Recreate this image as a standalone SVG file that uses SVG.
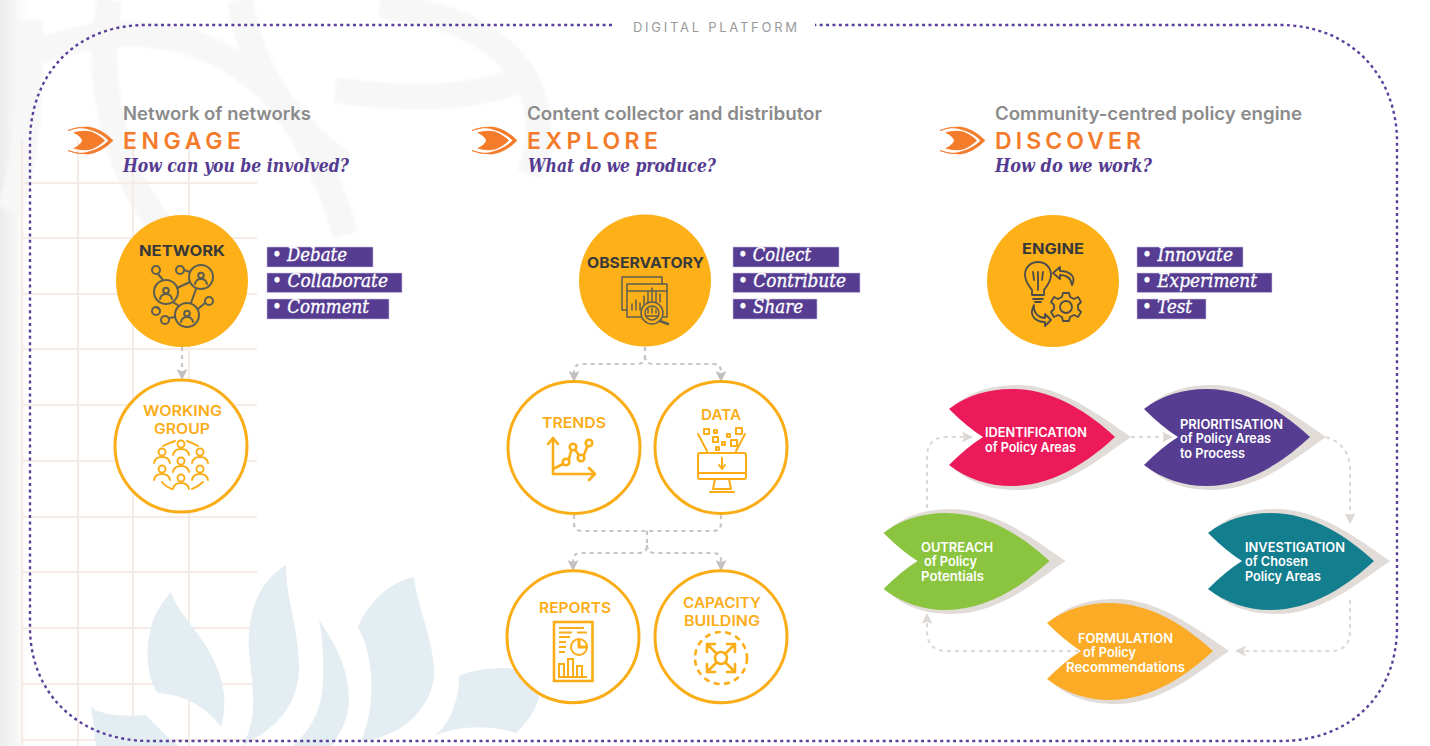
<svg xmlns="http://www.w3.org/2000/svg" xmlns:xlink="http://www.w3.org/1999/xlink" width="1430" height="746" viewBox="0 0 1430 746">
<style>
text{font-family:"Inter","Noto Sans","Liberation Sans",sans-serif}
.sub{font-size:18px;font-weight:600;fill:#8b8b8b}
.head{font-size:23px;font-weight:600;fill:#f47b2a}
.q{font-family:"DejaVu Serif","Liberation Serif",serif;font-style:italic;font-weight:700;font-size:18px;fill:#553c91}
.tag{fill:#563d92;stroke:#c9bfdc;stroke-width:.6}
.tt{font-family:"DejaVu Serif","Liberation Serif",serif;font-style:italic;font-size:18px;fill:#fff;stroke:#fff;stroke-width:.35}
.dark{font-size:15px;font-weight:700;fill:#38393a}
.amb{font-size:15px;font-weight:600;fill:#fbad18}
.amb2{font-size:14px;font-weight:600;fill:#fbad18}
.lf{font-size:13px;font-weight:600;fill:#fff}
.solid{fill:#fdb017}
.ring{fill:#fff;stroke:#fbad18;stroke-width:3}
.ia{fill:none;stroke:#fbad18;stroke-width:2.6;stroke-linecap:round;stroke-linejoin:round}
.id{fill:none;stroke:#5c5d52;stroke-width:2;stroke-linecap:round;stroke-linejoin:round}
.shadow{fill:#e2dcd9}
.g1{fill:none;stroke:#c8c4c4;stroke-width:2.2;stroke-dasharray:4 4}
.g2{fill:none;stroke:#ddd8d5;stroke-width:2;stroke-dasharray:4 4}
.wm{fill:none;stroke:#f7f7f7;stroke-width:26}
.bl{fill:#e4edf2}
.grid{stroke:#f5ece8;stroke-width:2;fill:none}
</style>
<defs>
<linearGradient id="edge" x1="0" x2="1" y1="0" y2="0"><stop offset="0" stop-color="#ececec"/><stop offset="1" stop-color="#fff"/></linearGradient>
<filter id="soft" x="-5%" y="-5%" width="110%" height="110%"><feGaussianBlur stdDeviation="1.5"/></filter>
<path id="leaf" d="M0 0C18-14 40-20 62-20C105-20 140 4 166 28C140 52 105 77 62 77C40 77 18 70 0 56Q18 38 34 28Q18 18 0 0Z"/>
<path id="leafs" d="M8-6C28-21 50-24 68-24C112-24 150 6 182 28C150 50 115 81 68 81C50 81 28 78 8 62L60 28Z"/>
<g id="eye"><path d="M0-10Q10-14 20-13.500Q33-12 45 0Q33 12 20 13.500Q10 14 0 10Q12 15 22 11Q33 8 41 0Q33-8 22-11Q12-15 0-10Z" fill="#f47b2a" stroke="#f47b2a" stroke-width=".8"/><path d="M5-8Q15-11 23-9Q31-6 37 0Q31 6 23 9Q15 11 5 8Q13 4 14 0Q13-4 5-8Z" fill="#f47b2a"/></g>
<g id="pa"><circle cx="0" cy="-5" r="3.500"/><path d="M-8 6Q-7 0 0 0Q7 0 8 6"/></g>
<g id="pd"><circle cx="0" cy="-2.500" r="2.800"/><path d="M-6 6Q-5 1 0 1Q5 1 6 6"/></g>
<marker id="ah" viewBox="0 0 10 10" refX="9" refY="5" markerWidth="11" markerHeight="11" markerUnits="userSpaceOnUse" orient="auto"><path d="M0 0L10 5L0 10L2 5Z" fill="#c4bfbf"/></marker>
<marker id="ah2" viewBox="0 0 10 10" refX="9" refY="5" markerWidth="11" markerHeight="11" markerUnits="userSpaceOnUse" orient="auto"><path d="M0 0L10 5L0 10L2 5Z" fill="#ddd8d5"/></marker>
</defs>

<rect width="1430" height="746" fill="#fff"/>
<rect width="28" height="746" fill="url(#edge)"/>
<g id="watermark" filter="url(#soft)">
<path class="wm" d="M20 60C120 10 240 30 300 130C330 180 340 215 345 235"/>
<path class="wm" d="M110 0C95 70 110 160 160 225"/>
<path class="wm" d="M240 0C250 60 280 120 345 165"/>
<path class="wm" d="M380 5C510 20 560 90 530 175"/>
<path class="wm" d="M335 90C400 100 470 100 520 80"/>
<path class="wm" d="M30 20C30 90 30 150 10 210"/>
</g>
<g id="grid" class="grid">
<path d="M22 140V746M78 140V746M133 140V746M189 140V746"/>
<path d="M22 183H257M22 238H257M22 294H257M22 349H257M22 405H257M22 461H257M22 517H257M22 572H257M22 628H257M22 684H257M22 740H257"/>
</g>
<g id="leaves">
<path class="bl" d="M171 592C178 615 205 635 218 670C226 690 226 710 221 727C210 712 190 695 158 693C148 680 145 655 150 632C153 615 162 602 171 592Z"/>
<path class="bl" d="M286 565C286 600 299 630 299 667C299 705 275 728 250 741L243 746C255 720 254 705 252 680C250 660 248 650 249 633C251 600 265 578 286 565Z"/>
<path class="bl" d="M319 620C340 650 349 675 349 700C349 720 338 735 332 746H293C315 725 323 705 323 677C324 655 322 635 319 620Z"/>
<path class="bl" d="M414 577C418 610 434 640 434 673C434 700 410 736 361 741C375 710 376 660 358 627C370 600 390 582 414 577Z"/>
<path class="bl" d="M459 676C475 669 490 668 507 668C520 668 532 680 539 697C535 712 525 725 516 733C490 725 460 725 434 736C450 725 459 700 459 676Z"/>
<path class="bl" d="M91 706C97 715 125 717 146 715C155 725 168 738 179 746H96Z"/>
</g>

<g id="frame"><path d="M612 25H146C75 25 30 75 30 142V627C30 695 80 741 150 741H1280C1350 741 1397 695 1397 627V142C1397 75 1350 25 1280 25H815" fill="none" stroke="#5b4099" stroke-width="2.400" stroke-dasharray="3 3.400"/>
<text x="633" y="32" font-size="13" fill="#9a9a9a" textLength="164" lengthAdjust="spacing">DIGITAL PLATFORM</text></g>

<g id="connectors">
<path class="g1" d="M182 347V379" marker-end="url(#ah)"/>
<path class="g1" d="M645 347V356Q645 364 637 364H582Q574 364 574 372V381" marker-end="url(#ah)"/>
<path class="g1" d="M645 356Q645 364 653 364H713Q721 364 721 372V381" marker-end="url(#ah)"/>
<path class="g1" d="M574 515V523Q574 531 582 531H713Q721 531 721 523V515"/>
<path class="g1" d="M647 531V545Q647 553 639 553H581Q573 553 573 561V570" marker-end="url(#ah)"/>
<path class="g1" d="M647 545Q647 553 655 553H713Q721 553 721 561V570" marker-end="url(#ah)"/>
<path class="g2" d="M927 508V457Q927 437 947 437H972" marker-end="url(#ah2)"/>
<path class="g2" d="M1131 437H1172" marker-end="url(#ah2)"/>
<path class="g2" d="M1326 437Q1350 445 1350 470V523" marker-end="url(#ah2)"/>
<path class="g2" d="M1350 600V631Q1350 651 1330 651H1236" marker-end="url(#ah2)"/>
<path class="g2" d="M1079 651H947Q927 651 927 631V614" marker-end="url(#ah2)"/>
</g>

<g id="engage-head">
<use href="#eye" x="68" y="140.500"/>
<text class="sub" x="123" y="120" textLength="188" lengthAdjust="spacingAndGlyphs">Network of networks</text>
<text class="head" x="123" y="149" textLength="118" lengthAdjust="spacing">ENGAGE</text>
<text class="q" x="123" y="172" textLength="226" lengthAdjust="spacingAndGlyphs">How can you be involved?</text>
</g>
<g id="explore-head">
<use href="#eye" x="472" y="140.500"/>
<text class="sub" x="527" y="120" textLength="295" lengthAdjust="spacingAndGlyphs">Content collector and distributor</text>
<text class="head" x="527" y="149" textLength="131" lengthAdjust="spacing">EXPLORE</text>
<text class="q" x="528" y="172" textLength="188" lengthAdjust="spacingAndGlyphs">What do we produce?</text>
</g>
<g id="discover-head">
<use href="#eye" x="940" y="140.500"/>
<text class="sub" x="995" y="120" textLength="307" lengthAdjust="spacingAndGlyphs">Community-centred policy engine</text>
<text class="head" x="995" y="149" textLength="146" lengthAdjust="spacing">DISCOVER</text>
<text class="q" x="995" y="172" textLength="157" lengthAdjust="spacingAndGlyphs">How do we work?</text>
</g>

<g id="network">
<circle class="solid" cx="182" cy="281" r="66"/>
<text class="dark" x="139" y="256" textLength="86" lengthAdjust="spacingAndGlyphs">NETWORK</text>
<g class="id">
<circle cx="166" cy="292" r="12"/><circle cx="201" cy="277" r="12"/><circle cx="187" cy="315" r="12"/>
<circle cx="156" cy="270" r="4"/><circle cx="180" cy="270" r="4"/><circle cx="156" cy="311" r="4"/><circle cx="165" cy="320" r="4"/><circle cx="209" cy="301" r="4"/>
<path d="M158 274L163 280M184 270L190 272M177 288L190 282M196 289L191 303M173 302L179 306M159 309L156 307M169 318L175 317M198 309L205 303"/>
<use href="#pd" x="166" y="293"/><use href="#pd" x="201" y="278"/><use href="#pd" x="187" y="316"/>
</g>
</g>
<g id="network-tags">
<rect class="tag" x="267" y="247" width="106" height="20"/><rect class="tag" x="267" y="273" width="135" height="19.500"/><rect class="tag" x="267" y="299" width="122" height="20"/>
<text class="tt" x="272" y="261" textLength="75" lengthAdjust="spacingAndGlyphs">• Debate</text>
<text class="tt" x="272" y="287" textLength="116" lengthAdjust="spacingAndGlyphs">• Collaborate</text>
<text class="tt" x="272" y="313" textLength="97" lengthAdjust="spacingAndGlyphs">• Comment</text>
</g>
<g id="working-group">
<circle class="ring" cx="181" cy="446" r="66"/>
<text class="amb2" x="143" y="416" textLength="79" lengthAdjust="spacingAndGlyphs">WORKING</text>
<text class="amb2" x="154" y="433.500" textLength="56" lengthAdjust="spacingAndGlyphs">GROUP</text>
<g class="ia" style="stroke-width:1.900">
<use href="#pa" x="181" y="449"/><use href="#pa" x="162" y="457"/><use href="#pa" x="200" y="457"/><use href="#pa" x="181" y="466"/><use href="#pa" x="162" y="474"/><use href="#pa" x="200" y="474"/><use href="#pa" x="181" y="483"/>
<path d="M163 446Q169 443 175 441M187 441Q193 443 198 446M162 482Q166 487 172 489M192 489Q198 487 203 482"/>
</g>
</g>

<g id="observatory">
<circle class="solid" cx="645" cy="280.500" r="66"/>
<text class="dark" x="587" y="268" textLength="117" lengthAdjust="spacingAndGlyphs">OBSERVATORY</text>
<g class="id" style="stroke-width:1.500">
<path d="M627 310H622V277H662V284"/><rect x="627" y="284" width="40" height="33"/><path d="M627 291H667"/>
<path d="M632 310V304M636 310V300M640 310V303M644 304V296M648 302V292M652 302V288M656 302V291M660 302V294"/>
<circle cx="652" cy="313" r="11" fill="#fdb017"/><circle cx="652" cy="313" r="7"/><path d="M660 321L668 324" style="stroke-width:2.500"/>
<path d="M648 313V309M652 313V308M656 313V310M646 316H658"/>
</g>
</g>
<g id="observatory-tags">
<rect class="tag" x="733" y="247" width="106" height="20"/><rect class="tag" x="733" y="273" width="127" height="19.500"/><rect class="tag" x="733" y="299" width="84" height="20"/>
<text class="tt" x="738" y="261" textLength="73" lengthAdjust="spacingAndGlyphs">• Collect</text>
<text class="tt" x="738" y="287" textLength="108" lengthAdjust="spacingAndGlyphs">• Contribute</text>
<text class="tt" x="738" y="313" textLength="65" lengthAdjust="spacingAndGlyphs">• Share</text>
</g>
<g id="trends">
<circle class="ring" cx="574" cy="447.500" r="66"/>
<text class="amb" x="542" y="428" textLength="64" lengthAdjust="spacingAndGlyphs">TRENDS</text>
<g class="ia"><path d="M548 444L553 438L558 444M553 438V474H595M589 468L595 474L589 480M553 469L563 464M569 459L571 451M576 451L578 454M584 455L587 447"/>
<circle cx="566" cy="462" r="3.300"/><circle cx="573" cy="447" r="3.300"/><circle cx="581" cy="458" r="3.300"/><circle cx="589" cy="443" r="3.300"/></g>
</g>
<g id="data">
<circle class="ring" cx="721" cy="447.500" r="66"/>
<text class="amb" x="701" y="420" textLength="40" lengthAdjust="spacingAndGlyphs">DATA</text>
<g class="ia" style="stroke-width:2">
<rect x="698" y="453" width="48" height="26" rx="2"/><path d="M698 473H746M722 458V468M719 465L722 469L725 465M715 479L713 489H731L729 479M710 492H734M698 434L707 451M745 434L736 451"/>
<rect x="704" y="429" width="5" height="5"/><rect x="713" y="437" width="5" height="5"/><rect x="731" y="440" width="6" height="6"/><rect x="736" y="428" width="6" height="6"/><rect x="714" y="430" width="3" height="3"/><rect x="727" y="434" width="3" height="3"/><rect x="722" y="442" width="3" height="3"/><rect x="716" y="447" width="3" height="3"/>
</g>
</g>
<g id="reports">
<circle class="ring" cx="573" cy="636.700" r="66"/>
<text class="amb" x="539" y="613" textLength="72" lengthAdjust="spacingAndGlyphs">REPORTS</text>
<g class="ia" style="stroke-width:2;stroke-linecap:butt;stroke-linejoin:miter">
<rect x="554" y="622" width="38.500" height="59" style="stroke-width:2.600"/><path d="M559 628H584M559 632.500H572M577 632.500H587M559 637H570M559 642H566M559 647H566M559 652H565"/>
<circle cx="579" cy="647" r="8"/><path d="M579 639V647H587" style="stroke-width:3"/>
<rect x="559" y="664" width="5" height="13"/><rect x="568" y="659" width="5" height="18"/><rect x="577" y="666" width="5" height="11"/><path d="M558 677H587"/>
</g>
</g>
<g id="capacity-building">
<circle class="ring" cx="721" cy="636.700" r="66"/>
<text class="amb2" x="683" y="608" textLength="78" lengthAdjust="spacingAndGlyphs">CAPACITY</text>
<text class="amb2" x="684" y="625.500" textLength="76" lengthAdjust="spacingAndGlyphs">BUILDING</text>
<g class="ia"><circle cx="721" cy="658" r="26" stroke-dasharray="6 4.500" stroke-linecap="butt"/><circle cx="721" cy="658" r="6"/>
<path d="M716 653L707 644M707 652V644H715M726 653L735 644M727 644H735V652M716 663L707 672M707 664V672H715M726 663L735 672M735 664V672H727"/></g>
</g>

<g id="engine">
<circle class="solid" cx="1053" cy="281" r="66"/>
<text class="dark" x="1022" y="254" textLength="62" lengthAdjust="spacingAndGlyphs">ENGINE</text>
<g class="id" style="stroke:#4b4c4a;stroke-width:1.800">
<path d="M1032 290C1028 285 1025 280 1025 275C1025 267 1031 262 1038 262C1045 262 1051 267 1051 275C1051 280 1048 285 1044 290V295H1032ZM1033 299H1043M1035 302H1041M1034 280L1033 272M1042 280L1043 272M1038 272V290"/>
<path d="M1072 285C1071 278 1066 275 1060 275V279L1053 273L1060 267V271C1069 271 1077 276 1072 285Z"/>
<path d="M1034 305C1033 314 1040 318 1045 318V314L1051 320L1045 326V322C1036 322 1028 316 1034 305Z"/>
<circle cx="1066" cy="307" r="6"/>
<path d="M1063 293H1069L1070 297L1074 299L1078 297L1081 302L1078 305V309L1081 312L1078 317L1074 315L1070 317L1069 321H1063L1062 317L1058 315L1054 317L1051 312L1054 309V305L1051 302L1054 297L1058 299L1062 297Z"/>
</g>
</g>
<g id="engine-tags">
<rect class="tag" x="1137" y="247" width="106" height="20"/><rect class="tag" x="1137" y="273" width="135" height="19.500"/><rect class="tag" x="1137" y="299" width="69" height="20"/>
<text class="tt" x="1142" y="261" textLength="91" lengthAdjust="spacingAndGlyphs">• Innovate</text>
<text class="tt" x="1142" y="287" textLength="115" lengthAdjust="spacingAndGlyphs">• Experiment</text>
<text class="tt" x="1142" y="313" textLength="50" lengthAdjust="spacingAndGlyphs">• Test</text>
</g>

<g id="identification">
<use href="#leafs" class="shadow" x="949" y="409"/><use href="#leaf" x="949" y="409" fill="#ed1a5b"/>
<text class="lf" x="985" y="437" textLength="102" lengthAdjust="spacingAndGlyphs">IDENTIFICATION</text>
<text class="lf" x="985" y="452" textLength="91" lengthAdjust="spacingAndGlyphs">of Policy Areas</text>
</g>
<g id="prioritisation">
<use href="#leafs" class="shadow" x="1144" y="409"/><use href="#leaf" x="1144" y="409" fill="#563d92"/>
<text class="lf" x="1180" y="429" textLength="103" lengthAdjust="spacingAndGlyphs">PRIORITISATION</text>
<text class="lf" x="1180" y="443" textLength="91" lengthAdjust="spacingAndGlyphs">of Policy Areas</text>
<text class="lf" x="1180" y="458" textLength="65" lengthAdjust="spacingAndGlyphs">to Process</text>
</g>
<g id="investigation">
<use href="#leafs" class="shadow" x="1208" y="533"/><use href="#leaf" x="1208" y="533" fill="#137e8e"/>
<text class="lf" x="1245" y="552" textLength="100" lengthAdjust="spacingAndGlyphs">INVESTIGATION</text>
<text class="lf" x="1245" y="566" textLength="63" lengthAdjust="spacingAndGlyphs">of Chosen</text>
<text class="lf" x="1245" y="581" textLength="76" lengthAdjust="spacingAndGlyphs">Policy Areas</text>
</g>
<g id="outreach">
<use href="#leafs" class="shadow" x="883.500" y="533"/><use href="#leaf" x="883.500" y="533" fill="#8bc53f"/>
<text class="lf" x="921" y="552" textLength="72" lengthAdjust="spacingAndGlyphs">OUTREACH</text>
<text class="lf" x="924" y="566" textLength="53" lengthAdjust="spacingAndGlyphs">of Policy</text>
<text class="lf" x="921" y="581" textLength="63" lengthAdjust="spacingAndGlyphs">Potentials</text>
</g>
<g id="formulation">
<use href="#leafs" class="shadow" x="1047" y="623"/><use href="#leaf" x="1047" y="623" fill="#fbab25"/>
<text class="lf" x="1078" y="643" textLength="95" lengthAdjust="spacingAndGlyphs">FORMULATION</text>
<text class="lf" x="1083" y="657" textLength="53" lengthAdjust="spacingAndGlyphs">of Policy</text>
<text class="lf" x="1066" y="672" textLength="119" lengthAdjust="spacingAndGlyphs">Recommendations</text>
</g>
</svg>
